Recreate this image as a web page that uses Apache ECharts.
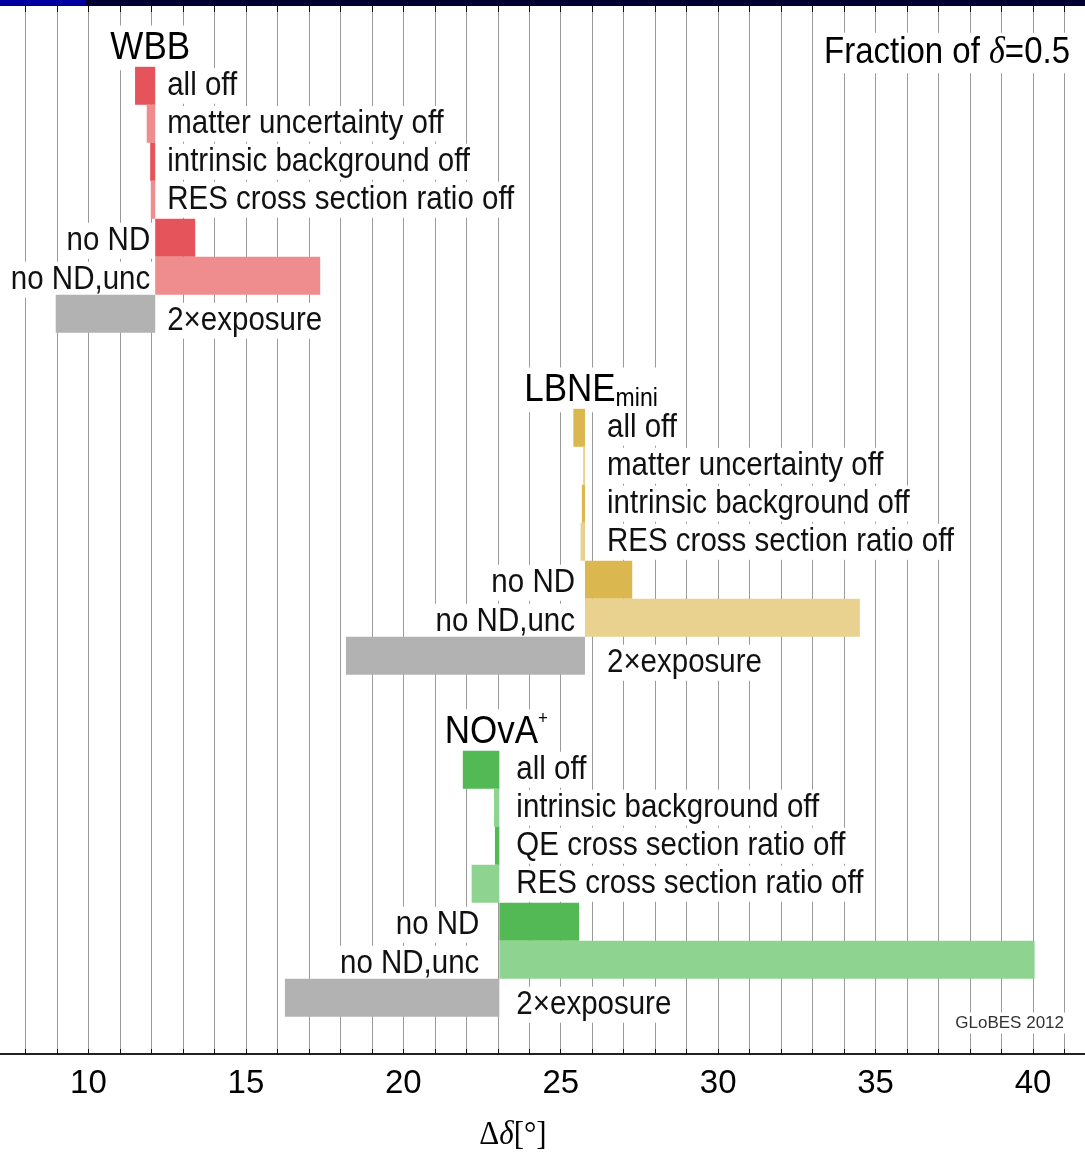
<!DOCTYPE html>
<html>
<head>
<meta charset="utf-8">
<script src="https://cdn.jsdelivr.net/npm/echarts@6/dist/echarts.min.js"></script>
<style>
html,body{margin:0;padding:0;background:#fff;}
#chart{width:1085px;height:1153px;}
</style>
</head>
<body>
<div id="chart"></div>
<script>
// ---------------- DATA ----------------
const xTickLabels = [10, 15, 20, 25, 30, 35, 40];

const groupTitles = ['WBB', 'LBNE', 'NOvA'];

const wbbLabels = ['all off', 'matter uncertainty off', 'intrinsic background off', 'RES cross section ratio off', 'no ND', 'no ND,unc', '2×exposure'];
const wbbBase = 12.12;
const wbbValues = [11.48, 11.85, 11.96, 11.98, 13.39, 17.36, 8.96];

const lbneLabels = ['all off', 'matter uncertainty off', 'intrinsic background off', 'RES cross section ratio off', 'no ND', 'no ND,unc', '2×exposure'];
const lbneBase = 25.77;
const lbneValues = [25.40, 25.71, 25.67, 25.63, 27.27, 34.50, 18.18];

const novaLabels = ['all off', 'intrinsic background off', 'QE cross section ratio off', 'RES cross section ratio off', 'no ND', 'no ND,unc', '2×exposure'];
const novaBase = 23.05;
const novaValues = [21.89, 22.88, 22.91, 22.17, 25.58, 40.05, 16.24];

// ---------------- STYLE ----------------
const palettes = [
  {dark: '#e5545a', light: '#ee8c8e'},
  {dark: '#dbb84f', light: '#e9d18f'},
  {dark: '#52b955', light: '#8ed38f'}
];
const grayColor = '#b2b2b2';
const labelOffsets = [ // px offsets of labels from base line
  {r: 10, l: 3},
  {r: 20, l: 8},
  {r: 15, l: 18}
];
const labelDy = [0, 0, 0, 0, 3, 4, 7]; // small vertical nudges of label text per row
const rowsPerGroup = 9;
const SY = 1.12;
const sansFamily = '"Liberation Sans", Arial, Helvetica, sans-serif';
const serifFamily = '"Liberation Serif", "DejaVu Serif", serif';

// ---------------- BUILD ----------------
const groups = [
  {labels: wbbLabels, base: wbbBase, values: wbbValues},
  {labels: lbneLabels, base: lbneBase, values: lbneValues},
  {labels: novaLabels, base: novaBase, values: novaValues}
];
const barData = [];
const labelData = [];
const labelTexts = [];
const titleData = [];
groups.forEach((g, gi) => {
  const startRow = gi * rowsPerGroup;
  titleData.push([g.base, startRow - 1, gi]);
  g.values.forEach((v, i) => {
    const row = startRow + i;
    let shade;
    if (i === g.values.length - 1) shade = 2; else shade = (i % 2 === 0) ? 0 : 1;
    barData.push([Math.min(v, g.base), Math.max(v, g.base), row, gi, shade]);
    labelData.push([g.base, v, row, gi, i]);
    labelTexts.push(g.labels[i]);
  });
});

function renderBar(params, api) {
  const a = api.coord([api.value(0), api.value(2)]);
  const b = api.coord([api.value(1), api.value(2)]);
  const h = api.size([0, 1])[1];
  const gi = api.value(3), shade = api.value(4);
  const color = shade === 2 ? grayColor : (shade === 0 ? palettes[gi].dark : palettes[gi].light);
  return {
    type: 'rect',
    shape: {x: a[0], y: a[1] - h / 2, width: b[0] - a[0], height: h},
    style: {fill: color}
  };
}

function renderLabel(params, api) {
  const base = api.value(0), val = api.value(1), row = api.value(2), gi = api.value(3), idx = api.value(4);
  const p = api.coord([base, row]);
  const right = val < base;
  const off = right ? labelOffsets[gi].r : -labelOffsets[gi].l;
  return {
    type: 'text',
    x: p[0] + off, y: p[1] + labelDy[idx],
    scaleY: SY,
    style: {
      text: labelTexts[params.dataIndex],
      align: right ? 'left' : 'right',
      verticalAlign: 'middle',
      fill: '#111',
      fontSize: 29.5,
      fontFamily: sansFamily,
      lineHeight: 30,
      backgroundColor: '#fff',
      padding: [1, 2]
    }
  };
}

const titleRich = {
  t: {fontSize: 35, fontFamily: sansFamily, color: '#111', lineHeight: 40},
  sub: {fontSize: 23, fontFamily: sansFamily, color: '#111', lineHeight: 22, verticalAlign: 'bottom'},
  sup: {fontSize: 17, fontFamily: sansFamily, color: '#111', lineHeight: 18, verticalAlign: 'top'}
};
const titleStrings = ['{t|WBB}', '{t|LBNE}{sub|mini}', '{t|NOvA}{sup|+}'];

function renderTitle(params, api) {
  const p = api.coord([api.value(0), api.value(1)]);
  const gi = api.value(2);
  return {
    type: 'text',
    x: p[0] + [-5, 6, -3][gi], y: p[1],
    scaleY: SY,
    style: {
      text: titleStrings[gi],
      rich: titleRich,
      align: 'center',
      verticalAlign: 'middle',
      backgroundColor: '#fff',
      padding: [0, 2]
    }
  };
}

const chart = echarts.init(document.getElementById('chart'), null, {renderer: 'canvas'});
const option = {
  animation: false,
  backgroundColor: '#fff',
  grid: {left: -6, right: -11, top: 6, bottom: 99, containLabel: false, outerBoundsMode: 'none'},
  xAxis: [
    {
      type: 'value', position: 'bottom', min: 7, max: 42, interval: 1,
      axisLine: {show: true, onZero: false, lineStyle: {color: '#222', width: 2}},
      axisTick: {show: true, inside: true, length: 5, lineStyle: {color: '#111', width: 1}},
      splitLine: {show: true, lineStyle: {color: '#9a9a9a', width: 1}},
      axisLabel: {
        show: true, margin: 13, color: '#000', fontSize: 33, fontFamily: sansFamily,
        formatter: v => xTickLabels.indexOf(v) >= 0 ? String(v) : ''
      }
    },
    {
      type: 'value', position: 'top', min: 7, max: 42, interval: 1,
      axisLine: {show: false, onZero: false},
      axisTick: {show: true, inside: true, length: 6, lineStyle: {color: '#111', width: 1}},
      splitLine: {show: false},
      axisLabel: {show: false}
    }
  ],
  yAxis: {
    type: 'value', inverse: true, min: -2.1, max: 25.48,
    show: false, splitLine: {show: false}
  },
  series: [
    {type: 'custom', name: 'labels', xAxisIndex: 0, renderItem: renderLabel, data: labelData, clip: false, z: 2},
    {type: 'custom', name: 'titles', xAxisIndex: 0, renderItem: renderTitle, data: titleData, clip: false, z: 2},
    {type: 'custom', name: 'bars', xAxisIndex: 0, renderItem: renderBar, data: barData, clip: false, z: 4}
  ],
  graphic: [
    {type: 'rect', left: 0, top: 0, z: 100, shape: {width: 1085, height: 6}, style: {fill: '#00002e'}},
    {type: 'rect', left: 0, top: 0, z: 101, shape: {width: 86, height: 5}, style: {fill: '#0000a0'}},
    {
      type: 'text', x: 1072, y: 53, scaleY: SY, z: 50,
      style: {
        text: '{a|Fraction of }{d|δ}{a|=0.5}',
        rich: {
          a: {fontSize: 33, fontFamily: sansFamily, color: '#111'},
          d: {fontSize: 34, fontFamily: serifFamily, fontStyle: 'italic', color: '#111'}
        },
        align: 'right', verticalAlign: 'middle', backgroundColor: '#fff', padding: [1, 2]
      }
    },
    {
      type: 'text', x: 1066, y: 1023, z: 50,
      style: {
        text: 'GLoBES 2012', fontSize: 17, fontFamily: sansFamily, fill: '#333',
        align: 'right', verticalAlign: 'middle', backgroundColor: '#fff', padding: [2, 2]
      }
    },
    {
      type: 'text', x: 513, y: 1135, scaleY: SY, z: 50,
      style: {
        text: '{a|Δ}{d|δ}{a|[°]}',
        rich: {
          a: {fontSize: 31, fontFamily: serifFamily, color: '#111'},
          d: {fontSize: 31, fontFamily: serifFamily, fontStyle: 'italic', color: '#111'}
        },
        align: 'center', verticalAlign: 'middle'
      }
    }
  ]
};
chart.setOption(option);
</script>
</body>
</html>
